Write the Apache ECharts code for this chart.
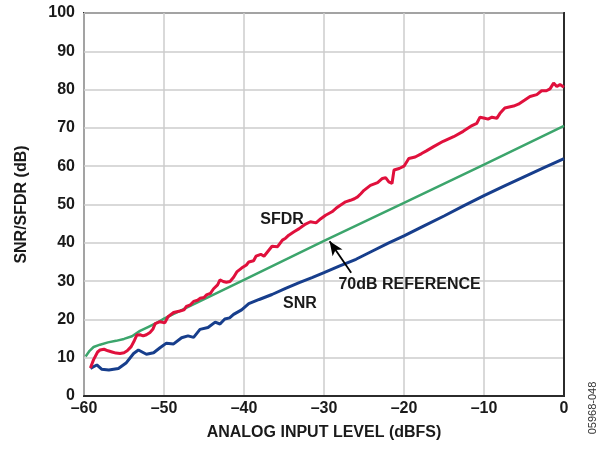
<!DOCTYPE html>
<html><head><meta charset="utf-8">
<script src="https://cdn.jsdelivr.net/npm/echarts@6/dist/echarts.min.js"></script>
<style>html,body{margin:0;padding:0;background:#fff}#c{width:605px;height:450px}</style>
</head><body><div id="c"></div>
<script>
// SFDR (red) [dBFS, dB]
const sfdrX = [-59.2,-58.8,-58.3,-58,-57.5,-57,-56.5,-56,-55.5,-55,-54.6,-54.1,-53.7,-53.4,-53,-52.6,-52.2,-51.75,-51.4,-51.1,-50.5,-49.9,-49.5,-48.8,-48,-47.5,-47.2,-46.7,-46.3,-45.8,-45.5,-45,-44.7,-44.2,-43.8,-43.3,-43,-42.6,-42.2,-41.75,-41.3,-40.9,-40.3,-39.7,-39.4,-38.8,-38.5,-37.9,-37.5,-37,-36.5,-35.8,-35.2,-34.8,-34.4,-33.75,-33.1,-32.7,-32.3,-31.7,-31,-30.4,-29.8,-29,-28.5,-28.1,-27.3,-26.7,-26.2,-25.8,-25.4,-25,-24.2,-23.3,-22.7,-22.3,-21.9,-21.5,-21.25,-20.6,-20,-19.4,-18.6,-17.8,-17.2,-16.3,-15.1,-13.8,-12.6,-11.5,-10.9,-10.5,-9.9,-9.5,-9,-8.4,-8,-7.4,-6.3,-5.7,-4.9,-4.25,-3.4,-2.8,-2.2,-1.75,-1.3,-0.9,-0.5,0];
const sfdrY = [7.3,9.5,11.5,12,12.2,11.8,11.5,11.2,11.1,11.3,11.8,12.9,14.5,15.9,16,15.7,16,16.6,17.4,18.9,19.4,19.1,20.7,21.8,22.2,22.5,23.4,23.8,24.7,25,25.5,25.7,26.4,26.8,28,29,30.3,29.9,29.7,29.9,31,32.4,33.4,34.2,35,35.3,36.5,37,36.5,37.8,39.1,39,40.7,41.2,42,42.9,43.7,44.3,44.9,45.5,45.2,46.3,47.2,48.1,49,49.6,50.7,51.1,51.5,52,52.8,53.7,55,55.7,56.8,57,55.9,55.5,59,59.4,60,62,62.4,63.3,64,65.1,66.5,67.7,69.1,70.6,71.2,72.8,72.5,72.3,72.8,72.5,73.8,75.2,75.7,76.2,77.3,78.2,78.7,79.7,79.7,80.2,81.7,80.8,81.3,80.6];
// SNR (blue)
const snrX = [-59.2,-58.4,-57.8,-56.9,-55.7,-54.7,-53.8,-53.2,-52.2,-51.3,-50.5,-49.7,-48.8,-47.8,-47,-46.3,-45.5,-44.5,-43.6,-43,-42.4,-41.8,-41.3,-40.3,-39.4,-38.1,-36.5,-34.8,-33.1,-31.5,-30,-28.1,-26,-24,-21.9,-20,-17.5,-15,-12.5,-10,-7.5,-5,-2.5,0];
const snrY = [7.2,8.1,7,6.8,7.2,8.7,11.1,12,10.9,11.3,12.6,13.8,13.6,15.2,15.7,15.3,17.4,17.9,19.3,18.8,20.1,20.4,21.3,22.5,24.1,25.2,26.5,28.1,29.6,30.9,32.2,33.9,35.7,37.8,40,41.8,44.4,47,49.7,52.3,54.8,57.2,59.6,62];
// 70dB reference (green)
const refX = [-59.8,-59.3,-58.8,-58,-57,-56,-55,-54,-53,-52,-51,-50,-40,-30,-20,-10,0];
const refY = [10.3,11.8,12.8,13.4,14,14.4,14.9,15.6,17,18,19,20.2,30.3,40.5,50.4,60.4,70.5];
const xTicks = [-60,-50,-40,-30,-20,-10,0];
const yTicks = [0,10,20,30,40,50,60,70,80,90,100];

const zip = (a,b) => a.map((v,i)=>[v,b[i]]);
const font = 'Liberation Sans, Arial, sans-serif';
const chart = echarts.init(document.getElementById('c'), null, {renderer:'canvas'});
chart.setOption({
  animation:false,
  grid:{left:84,right:41,top:13,bottom:54,show:true,borderColor:'#2b2b2b',borderWidth:2,outerBoundsMode:'none'},
  xAxis:{type:'value',min:xTicks[0],max:xTicks[xTicks.length-1],interval:10,
    name:'ANALOG INPUT LEVEL (dBFS)',nameLocation:'middle',nameGap:29,
    nameTextStyle:{fontFamily:font,fontWeight:'bold',fontSize:16,color:'#1a1a1a'},
    axisLine:{show:true,lineStyle:{color:'#2b2b2b',width:2}},axisTick:{show:false},
    axisLabel:{fontFamily:font,fontWeight:'bold',fontSize:16,color:'#1a1a1a',margin:5,
      formatter:v=>String(v).replace('-','\u2013')},
    splitLine:{show:true,lineStyle:{color:'#cccccc',width:1.5}}},
  yAxis:{type:'value',min:yTicks[0],max:yTicks[yTicks.length-1],interval:10,
    name:'SNR/SFDR (dB)',nameLocation:'middle',nameGap:54,
    nameTextStyle:{fontFamily:font,fontWeight:'bold',fontSize:16,color:'#1a1a1a'},
    axisLine:{show:true,lineStyle:{color:'#2b2b2b',width:2}},axisTick:{show:false},
    axisLabel:{fontFamily:font,fontWeight:'bold',fontSize:16,color:'#1a1a1a',margin:9},
    splitLine:{show:true,lineStyle:{color:'#cccccc',width:1.5}}},
  series:[
    {name:'REF',type:'line',data:zip(refX,refY),showSymbol:false,symbol:'none',
      lineStyle:{color:'#3ca56c',width:2.5},z:3,
      markLine:{silent:true,symbol:['none','arrow'],symbolSize:[9,14],
        lineStyle:{color:'#000',width:1.8,type:'solid'},label:{show:false},
        data:[[{coord:[-26.6,32.2]},{coord:[-29.3,40.4]}]]}},
    {name:'SNR',type:'line',data:zip(snrX,snrY),showSymbol:false,symbol:'none',
      lineStyle:{color:'#173e8c',width:3},z:4},
    {name:'SFDR',type:'line',data:zip(sfdrX,sfdrY),showSymbol:false,symbol:'none',
      lineStyle:{color:'#e0103c',width:3},z:5,
      markPoint:{symbol:'circle',symbolSize:0,silent:true,
        label:{show:true,position:'inside',fontFamily:font,fontWeight:'bold',fontSize:16,color:'#1a1a1a',formatter:p=>p.name},
        data:[{name:'SFDR',coord:[-35.25,46]},{name:'SNR',coord:[-33,24.2]},{name:'70dB REFERENCE',coord:[-19.3,29]}]}}
  ],
  graphic:[{type:'text',x:593,y:408,rotation:Math.PI/2,
    style:{text:'05968-048',fontFamily:font,fontSize:11,fill:'#333',align:'center',verticalAlign:'middle'}}]
});
</script></body></html>
